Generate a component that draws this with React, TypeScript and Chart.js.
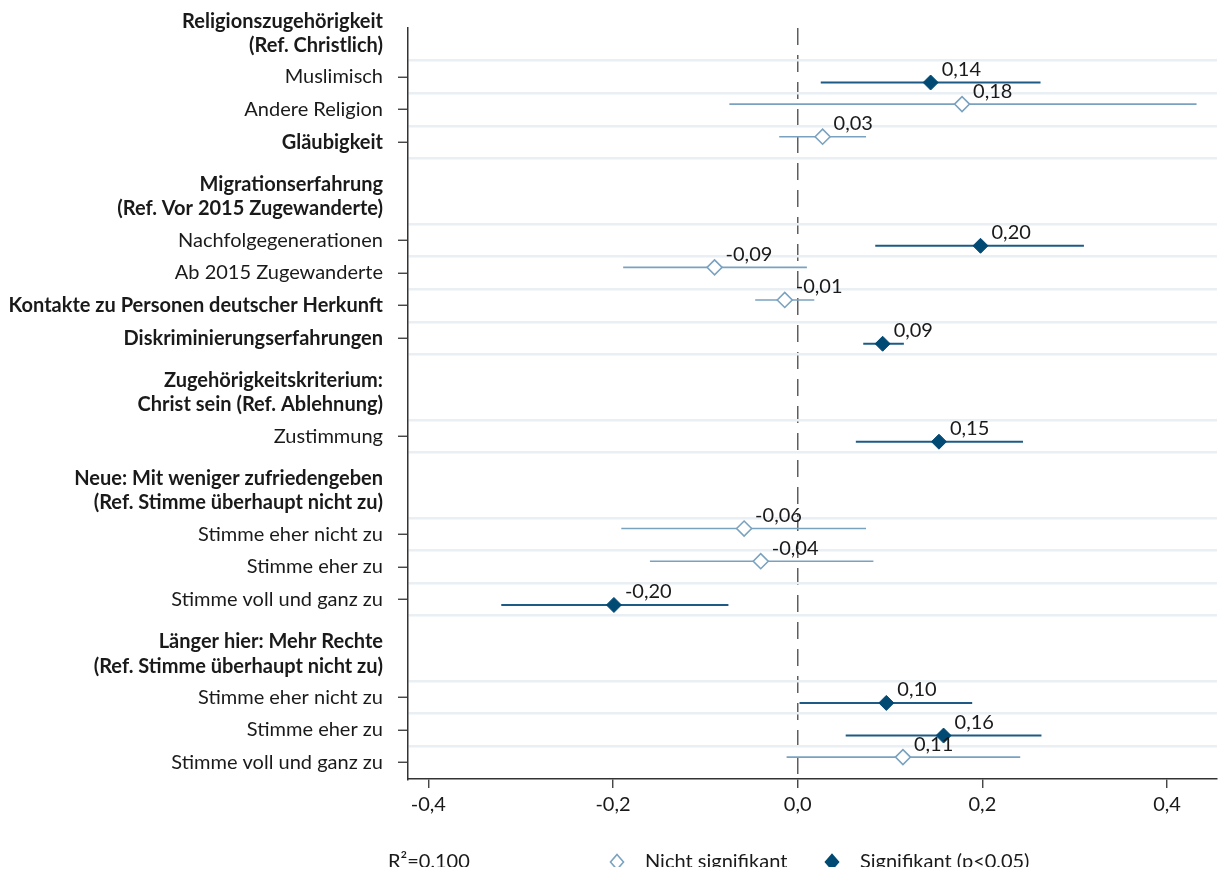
import React, { useEffect, useRef } from 'react';
import { Chart, registerables } from 'chart.js';

Chart.register(...registerables);

const FONT_FAMILY = 'Lato, "Open Sans", sans-serif';
const FONT_SIZE = 20;

// ---- Data ----
const itemLabels = [
  'Muslimisch',
  'Andere Religion',
  'Gläubigkeit',
  'Nachfolgegenerationen',
  'Ab 2015 Zugewanderte',
  'Kontakte zu Personen deutscher Herkunft',
  'Diskriminierungserfahrungen',
  'Zustimmung',
  'Stimme eher nicht zu',
  'Stimme eher zu',
  'Stimme voll und ganz zu',
  'Stimme eher nicht zu',
  'Stimme eher zu',
  'Stimme voll und ganz zu',
];
const itemSlots = [1, 2, 3, 6, 7, 8, 9, 12, 15, 16, 17, 20, 21, 22];
const itemBold = [false, false, true, false, false, true, true, false, false, false, false, false, false, false];

const headerLabels = [
  ['Religionszugehörigkeit', '(Ref. Christlich)'],
  ['Migrationserfahrung', '(Ref. Vor 2015 Zugewanderte)'],
  ['Zugehörigkeitskriterium:', 'Christ sein (Ref. Ablehnung)'],
  ['Neue: Mit weniger zufriedengeben', '(Ref. Stimme überhaupt nicht zu)'],
  ['Länger hier: Mehr Rechte', '(Ref. Stimme überhaupt nicht zu)'],
];
const headerSlots = [0, 5, 11, 14, 19];

const estimates = [0.144, 0.178, 0.027, 0.198, -0.090, -0.014, 0.092, 0.153, -0.058, -0.040, -0.199, 0.096, 0.158, 0.114];
const ciLow = [0.025, -0.074, -0.020, 0.084, -0.189, -0.046, 0.071, 0.063, -0.191, -0.160, -0.321, 0.002, 0.052, -0.012];
const ciHigh = [0.263, 0.432, 0.074, 0.310, 0.010, 0.018, 0.115, 0.244, 0.074, 0.082, -0.075, 0.189, 0.264, 0.241];
const significant = [true, false, false, true, false, false, true, true, false, false, true, true, true, false];

const xTickValues = [-0.4, -0.2, 0, 0.2, 0.4];
const rSquaredText = 'R²=0,100';
const legendNS = 'Nicht signifikant';
const legendSig = 'Signifikant (p<0,05)';

// ---- Styles ----
const SIG_COLOR = '#004a74';
const SIG_LINE = '#1d5b86';
const NS_COLOR = '#7aa2bf';
const TEXT_COLOR = '#1a1a1a';
const SLOT_COUNT = 23;
const OFFSET = 0.17;

const fmt = (v: number, d: number) => v.toFixed(d).replace('.', ',');

type TickDef = { value: number; label: string | string[]; kind: 'item' | 'header' | 'boundary'; bold: boolean };

function buildTickDefs(): TickDef[] {
  const boundaries: TickDef[] = [];
  for (let k = 0; k < SLOT_COUNT - 1; k++) {
    const v = k + 0.5;
    if (headerSlots.some((s) => s - 0.5 === v)) continue;
    boundaries.push({ value: v, label: '', kind: 'boundary', bold: false });
  }
  const items: TickDef[] = itemLabels.map((l, i) => ({ value: itemSlots[i], label: l, kind: 'item', bold: itemBold[i] }));
  const headers: TickDef[] = headerLabels.map((l, i) => ({ value: headerSlots[i] - 0.33, label: l, kind: 'header', bold: true }));
  return [...boundaries, ...items, ...headers];
}

const valueLabelPlugin = {
  id: 'valueLabels',
  afterDatasetsDraw(chart: any) {
    const ctx = chart.ctx;
    ctx.save();
    ctx.font = `${FONT_SIZE}px ${FONT_FAMILY}`;
    ctx.fillStyle = TEXT_COLOR;
    ctx.textAlign = 'left';
    ctx.textBaseline = 'middle';
    chart.data.datasets.forEach((ds: any, di: number) => {
      if (!ds.isPoints) return;
      const meta = chart.getDatasetMeta(di);
      meta.data.forEach((el: any, j: number) => {
        ctx.fillText(fmt(ds.data[j].x, 2), el.x + 11, el.y - 13);
      });
    });
    ctx.restore();
  },
};

// Legend row below the x axis: R² note plus the two marker meanings
const legendPlugin = {
  id: 'bottomLegend',
  afterDraw(chart: any) {
    const ctx = chart.ctx;
    const y = 862;
    ctx.save();
    ctx.font = `${FONT_SIZE}px ${FONT_FAMILY}`;
    ctx.fillStyle = TEXT_COLOR;
    ctx.textAlign = 'left';
    ctx.textBaseline = 'middle';
    ctx.fillText(rSquaredText, 388, y);
    const diamond = (cx: number, filled: boolean) => {
      ctx.beginPath();
      ctx.moveTo(cx, y - 7.5);
      ctx.lineTo(cx + 6.5, y);
      ctx.lineTo(cx, y + 7.5);
      ctx.lineTo(cx - 6.5, y);
      ctx.closePath();
      ctx.fillStyle = filled ? SIG_COLOR : '#ffffff';
      ctx.fill();
      ctx.lineWidth = 1.6;
      ctx.strokeStyle = filled ? SIG_COLOR : NS_COLOR;
      ctx.stroke();
    };
    diamond(617, false);
    diamond(832, true);
    ctx.fillStyle = TEXT_COLOR;
    ctx.fillText(legendNS, 645, y);
    ctx.fillText(legendSig, 860, y);
    ctx.restore();
  },
};

export default function App() {
  const canvasRef = useRef<HTMLCanvasElement | null>(null);

  useEffect(() => {
    document.documentElement.style.overflow = 'hidden';
    document.body.style.overflow = 'hidden';
    if (!canvasRef.current) return;
    const tickDefs = buildTickDefs();
    const yOf = (i: number) => itemSlots[i] + (significant[i] ? OFFSET : -OFFSET);

    const ciDatasets = estimates.map((_, i) => ({
      type: 'scatter' as const,
      label: 'ci' + i,
      data: [
        { x: ciLow[i], y: yOf(i) },
        { x: ciHigh[i], y: yOf(i) },
      ],
      showLine: true,
      borderColor: significant[i] ? SIG_LINE : NS_COLOR,
      borderWidth: significant[i] ? 2 : 1.6,
      pointRadius: 0,
      pointHoverRadius: 0,
      order: 2,
    }));

    const nsIdx = estimates.map((_, i) => i).filter((i) => !significant[i]);
    const sigIdx = estimates.map((_, i) => i).filter((i) => significant[i]);

    const chart = new Chart(canvasRef.current, {
      type: 'scatter',
      data: {
        datasets: [
          ...ciDatasets,
          {
            type: 'scatter',
            label: legendNS,
            isPoints: true,
            data: nsIdx.map((i) => ({ x: estimates[i], y: yOf(i) })),
            pointStyle: 'rectRot',
            pointRadius: 7.5,
            pointBackgroundColor: '#ffffff',
            pointBorderColor: NS_COLOR,
            pointBorderWidth: 1.6,
            order: 0,
          } as any,
          {
            type: 'scatter',
            label: legendSig,
            isPoints: true,
            data: sigIdx.map((i) => ({ x: estimates[i], y: yOf(i) })),
            pointStyle: 'rectRot',
            pointRadius: 7.5,
            pointBackgroundColor: SIG_COLOR,
            pointBorderColor: SIG_COLOR,
            pointBorderWidth: 1,
            order: 0,
          } as any,
        ],
      },
      options: {
        responsive: false,
        animation: false,
        layout: { padding: { top: 28, right: 2, bottom: 46, left: 0 } },
        plugins: {
          legend: { display: false },
          tooltip: { enabled: false },
        },
        scales: {
          x: {
            type: 'linear',
            min: -0.422,
            max: 0.454,
            afterBuildTicks: (s: any) => {
              s.ticks = xTickValues.map((v) => ({ value: v }));
            },
            afterFit: (s: any) => {
              s.height = 50;
              s.paddingLeft = 0;
              s.paddingRight = 0;
            },
            ticks: {
              autoSkip: false,
              maxRotation: 0,
              padding: 5,
              color: TEXT_COLOR,
              font: { family: FONT_FAMILY, size: FONT_SIZE },
              callback: (v: any) => fmt(Number(v), 1),
            },
            grid: {
              color: (c: any) => (c.tick && c.tick.value === 0 ? '#5e5e5e' : 'rgba(0,0,0,0)'),
              lineWidth: 1.5,
              tickColor: '#333333',
              tickLength: 9,
              tickWidth: 1.3,
            },
            border: { color: '#333333', width: 1.5, dash: [17, 10] },
          },
          y: {
            type: 'linear',
            reverse: true,
            min: -0.5,
            max: SLOT_COUNT - 0.5,
            afterBuildTicks: (s: any) => {
              s.ticks = tickDefs.map((d) => ({ value: d.value }));
            },
            afterFit: (s: any) => {
              s.width = 408;
              s.paddingTop = 0;
              s.paddingBottom = 0;
            },
            ticks: {
              autoSkip: false,
              padding: 15,
              color: TEXT_COLOR,
              font: (c: any) => ({
                family: FONT_FAMILY,
                size: FONT_SIZE,
                weight: tickDefs[c.index] && tickDefs[c.index].bold ? 'bold' : 'normal',
                lineHeight: 1.22,
              }),
              callback: (_v: any, index: number) => tickDefs[index].label,
            },
            grid: {
              color: (c: any) => (tickDefs[c.index] && tickDefs[c.index].kind === 'boundary' ? '#e9eff3' : 'rgba(0,0,0,0)'),
              lineWidth: 2.5,
              tickColor: (c: any) => (tickDefs[c.index] && tickDefs[c.index].kind === 'item' ? '#333333' : 'rgba(0,0,0,0)'),
              tickLength: 10,
              tickWidth: 1.3,
            },
            border: { color: '#333333', width: 1.5 },
          },
        },
      },
      plugins: [valueLabelPlugin, legendPlugin],
    } as any);

    return () => chart.destroy();
  }, []);

  return (
    <div style={{ width: 1226, height: 875, margin: -8 }}>
      <canvas ref={canvasRef} width={1226} height={875} style={{ display: 'block' }} />
    </div>
  );
}
